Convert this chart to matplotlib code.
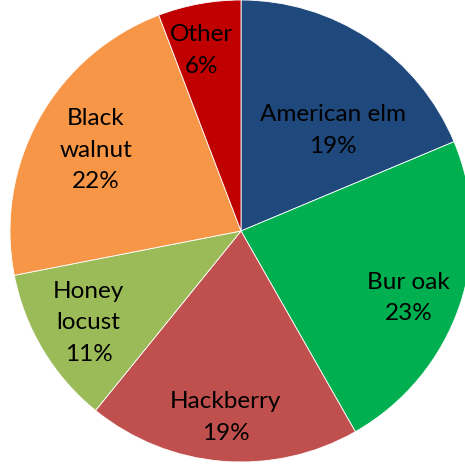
import matplotlib
matplotlib.use("Agg")
import matplotlib.pyplot as plt
import numpy as np

# especies y porcentajes
especies = ["American elm", "Bur oak", "Hackberry", "Honey\nlocust", "Black\nwalnut", "Other"]
valores = [18.7, 23.1, 19.1, 11.1, 22.3, 5.8]
etiquetas_pct = ["19%", "23%", "19%", "11%", "22%", "6%"]
colores = ["#1F497D", "#00B050", "#C0504D", "#9BBB59", "#F79646", "#C00000"]

# distancia de cada etiqueta al centro (fraccion del radio) y giro respecto al medio de la cuña
dist_etiqueta = [0.59, 0.78, 0.81, 0.77, 0.72, 0.80]
giro_etiqueta = [-9.0, -3.0, 0.0, 0.0, 0.0, 2.0]

plt.rcParams['font.family'] = ['Lato', 'DejaVu Sans']

fig = plt.figure(figsize=(4.65, 4.65), dpi=100)
# centro del pastel en (241, 231) px, radio 231 px
cx, cy, r = 241, 465 - 231, 231
ax = fig.add_axes([(cx - r) / 465, (cy - r) / 465, 2 * r / 465, 2 * r / 465])

wedges, textos = ax.pie(valores, colors=colores, startangle=90, counterclock=False,
                        labels=[e + "\n" + p for e, p in zip(especies, etiquetas_pct)],
                        labeldistance=0.75,
                        wedgeprops=dict(edgecolor="white", linewidth=0.6),
                        textprops=dict(fontsize=17.5, color="black", ha="center", va="center",
                                       linespacing=1.62))

for w, t, d, g in zip(wedges, textos, dist_etiqueta, giro_etiqueta):
    ang = np.deg2rad((w.theta1 + w.theta2) / 2 + g)
    t.set_position((d * np.cos(ang), d * np.sin(ang)))
    t.set_ha("center")
    t.set_va("center")

ax.set_xlim(-1, 1)
ax.set_ylim(-1, 1)
ax.set_aspect("equal")
ax.axis("off")

fig.savefig("out.png", dpi=100)
